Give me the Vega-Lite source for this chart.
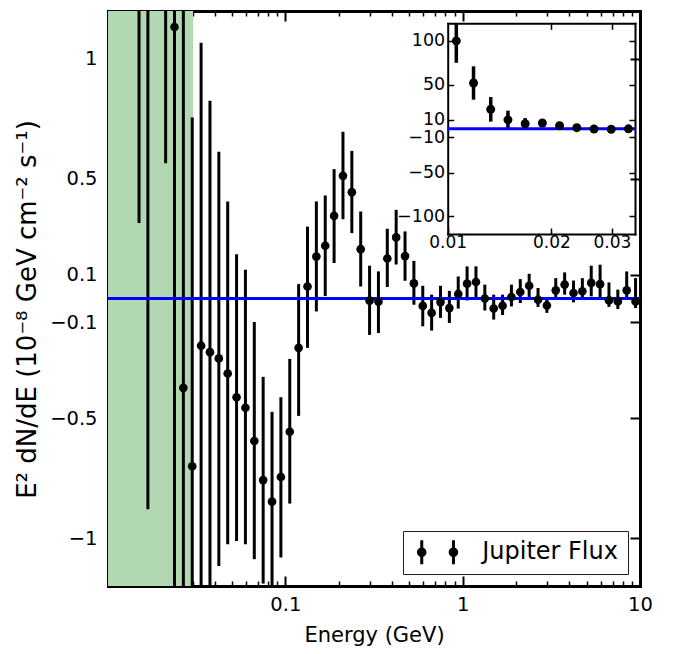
{
  "$schema": "https://vega.github.io/schema/vega-lite/v6.json",
  "width": 532,
  "height": 575,
  "autosize": {"type": "none"},
  "padding": {"left": 108, "top": 11, "right": 33, "bottom": 68},
  "background": "white",
  "config": {
    "view": {"stroke": null},
    "font": "DejaVu Sans",
    "axis": {
      "grid": false,
      "labelFont": "DejaVu Sans",
      "titleFont": "DejaVu Sans",
      "labelColor": "black",
      "titleColor": "black",
      "tickColor": "black",
      "domainColor": "black",
      "labelFontSize": 19.5,
      "titleFontSize": 21,
      "titleFontWeight": "normal",
      "labelFlush": false,
      "labelOverlap": false,
      "zindex": 1
    }
  },
  "datasets": {
    "shade": [{"lo": 0.01, "hi": 0.0302}],
    "flux": [
      {"E": 0.010593, "val": 100, "lo": 75, "hi": 120},
      {"E": 0.011885, "val": 52, "lo": 33, "hi": 71},
      {"E": 0.013335, "val": 22, "lo": 8, "hi": 36},
      {"E": 0.014962, "val": 10, "lo": 0.315, "hi": 20.5},
      {"E": 0.016788, "val": 5.6, "lo": -0.88, "hi": 12},
      {"E": 0.018836, "val": 6.4, "lo": 2.0, "hi": 10.5},
      {"E": 0.021135, "val": 3.4, "lo": 0.565, "hi": 6.2},
      {"E": 0.023714, "val": 1.133, "lo": -1.6, "hi": 3.9},
      {"E": 0.026607, "val": -0.373, "lo": -2.9, "hi": 2.1},
      {"E": 0.029854, "val": -0.70, "lo": -2.16, "hi": 0.756},
      {"E": 0.033497, "val": -0.197, "lo": -1.46, "hi": 1.067},
      {"E": 0.037584, "val": -0.224, "lo": -1.27, "hi": 0.825},
      {"E": 0.04217, "val": -0.25, "lo": -1.116, "hi": 0.613},
      {"E": 0.047315, "val": -0.313, "lo": -1.026, "hi": 0.405},
      {"E": 0.053088, "val": -0.412, "lo": -1.012, "hi": 0.185},
      {"E": 0.059566, "val": -0.456, "lo": -1.026, "hi": 0.12},
      {"E": 0.066834, "val": -0.595, "lo": -1.088, "hi": -0.098},
      {"E": 0.074989, "val": -0.758, "lo": -1.19, "hi": -0.327},
      {"E": 0.08414, "val": -0.848, "lo": -1.22, "hi": -0.473},
      {"E": 0.094406, "val": -0.745, "lo": -1.081, "hi": -0.412},
      {"E": 0.10593, "val": -0.556, "lo": -0.856, "hi": -0.252},
      {"E": 0.11885, "val": -0.206, "lo": -0.49, "hi": 0.06},
      {"E": 0.13335, "val": 0.05, "lo": -0.206, "hi": 0.30},
      {"E": 0.14962, "val": 0.175, "lo": -0.054, "hi": 0.405},
      {"E": 0.16788, "val": 0.22, "lo": 0.01, "hi": 0.43},
      {"E": 0.18836, "val": 0.345, "lo": 0.148, "hi": 0.54},
      {"E": 0.21135, "val": 0.512, "lo": 0.331, "hi": 0.696},
      {"E": 0.23714, "val": 0.444, "lo": 0.273, "hi": 0.616},
      {"E": 0.26607, "val": 0.206, "lo": 0.05, "hi": 0.363},
      {"E": 0.29854, "val": -0.009, "lo": -0.152, "hi": 0.137},
      {"E": 0.33497, "val": -0.013, "lo": -0.144, "hi": 0.113},
      {"E": 0.37584, "val": 0.167, "lo": 0.048, "hi": 0.291},
      {"E": 0.4217, "val": 0.255, "lo": 0.142, "hi": 0.37},
      {"E": 0.47315, "val": 0.177, "lo": 0.074, "hi": 0.28},
      {"E": 0.53088, "val": 0.063, "lo": -0.026, "hi": 0.157},
      {"E": 0.59566, "val": -0.031, "lo": -0.116, "hi": 0.053},
      {"E": 0.66834, "val": -0.06, "lo": -0.134, "hi": 0.016},
      {"E": 0.74989, "val": -0.015, "lo": -0.081, "hi": 0.053},
      {"E": 0.8414, "val": -0.04, "lo": -0.102, "hi": 0.032},
      {"E": 0.94406, "val": 0.019, "lo": -0.042, "hi": 0.092},
      {"E": 1.0593, "val": 0.062, "lo": -0.008, "hi": 0.134},
      {"E": 1.1885, "val": 0.069, "lo": -0.005, "hi": 0.134},
      {"E": 1.3335, "val": 0.0, "lo": -0.05, "hi": 0.058},
      {"E": 1.4962, "val": -0.042, "lo": -0.088, "hi": 0.016},
      {"E": 1.6788, "val": -0.03, "lo": -0.069, "hi": 0.016},
      {"E": 1.8836, "val": 0.006, "lo": -0.033, "hi": 0.058},
      {"E": 2.1135, "val": 0.027, "lo": -0.019, "hi": 0.081},
      {"E": 2.3714, "val": 0.053, "lo": 0.006, "hi": 0.103},
      {"E": 2.6607, "val": -0.005, "lo": -0.035, "hi": 0.044},
      {"E": 2.9854, "val": -0.029, "lo": -0.06, "hi": 0.002},
      {"E": 3.3497, "val": 0.034, "lo": -0.005, "hi": 0.085},
      {"E": 3.7584, "val": 0.058, "lo": 0.016, "hi": 0.109},
      {"E": 4.217, "val": 0.023, "lo": -0.016, "hi": 0.075},
      {"E": 4.7315, "val": 0.03, "lo": -0.002, "hi": 0.085},
      {"E": 5.3088, "val": 0.065, "lo": 0.009, "hi": 0.137},
      {"E": 5.9566, "val": 0.06, "lo": 0.002, "hi": 0.141},
      {"E": 6.6834, "val": -0.008, "lo": -0.035, "hi": 0.067},
      {"E": 7.4989, "val": -0.012, "lo": -0.044, "hi": 0.037},
      {"E": 8.414, "val": 0.034, "lo": 0.002, "hi": 0.113},
      {"E": 9.4406, "val": -0.012, "lo": -0.04, "hi": 0.085}
    ]
  },
  "layer": [
    {
      "layer": [
        {
          "data": {"name": "shade"},
          "mark": {"type": "rect", "color": "#b2d8b2", "clip": true},
          "encoding": {
            "x": {
              "field": "lo", "type": "quantitative",
              "scale": {"type": "log", "domain": [0.01, 10]},
              "axis": {"orient": "bottom", "values": [0.1, 1, 10], "format": "~g", "tickSize": -10, "tickWidth": 2, "domainWidth": 3, "domainCap": "square", "labelPadding": 19, "title": "Energy (GeV)", "titlePadding": 11}
            },
            "x2": {"field": "hi"}
          }
        },
        {
          "data": {"name": "flux"},
          "mark": {"type": "rule", "color": "black", "strokeWidth": 3, "clip": true},
          "encoding": {
            "x": {
              "field": "E", "type": "quantitative",
              "scale": {"type": "log", "domain": [0.01, 10]},
              "axis": {"orient": "top", "values": [0.1, 1], "labels": false, "tickSize": -10, "tickWidth": 2, "domainWidth": 3, "domainCap": "square", "title": null}
            },
            "y": {
              "field": "lo", "type": "quantitative",
              "scale": {"domain": [-1.2, 1.2], "nice": false, "zero": false},
              "axis": {"orient": "right", "values": [-1, -0.5, -0.1, 0.1, 0.5, 1], "labels": false, "tickSize": -10, "tickWidth": 2, "domainWidth": 3, "domainCap": "square", "title": null}
            },
            "y2": {"field": "hi"}
          }
        },
        {
          "data": {"values": [{}]},
          "mark": {"type": "rule", "color": "#0000ff", "strokeWidth": 3},
          "encoding": {
            "x": {
              "datum": 0.01, "type": "quantitative",
              "scale": {"type": "log", "domain": [0.01, 10]},
              "axis": {"orient": "top", "values": [0.02, 0.03, 0.04, 0.05, 0.06, 0.07, 0.08, 0.09, 0.2, 0.3, 0.4, 0.5, 0.6, 0.7, 0.8, 0.9, 2, 3, 4, 5, 6, 7, 8, 9], "labels": false, "domain": false, "tickSize": -5, "tickWidth": 1.5, "title": null}
            },
            "x2": {"datum": 10},
            "y": {"datum": 0, "type": "quantitative", "axis": null}
          }
        },
        {
          "data": {"name": "flux"},
          "mark": {"type": "circle", "size": 75, "opacity": 1, "clip": true},
          "encoding": {
            "x": {
              "field": "E", "type": "quantitative",
              "scale": {"type": "log", "domain": [0.01, 10]},
              "axis": {"orient": "bottom", "values": [0.02, 0.03, 0.04, 0.05, 0.06, 0.07, 0.08, 0.09, 0.2, 0.3, 0.4, 0.5, 0.6, 0.7, 0.8, 0.9, 2, 3, 4, 5, 6, 7, 8, 9], "labels": false, "domain": false, "tickSize": -5, "tickWidth": 1.5, "title": null}
            },
            "y": {
              "field": "val", "type": "quantitative",
              "scale": {"domain": [-1.2, 1.2], "nice": false, "zero": false},
              "axis": {"orient": "left", "values": [-1, -0.5, -0.1, 0.1, 0.5, 1], "format": "~g", "tickSize": -10, "tickWidth": 2, "domainWidth": 3, "domainCap": "square", "labelPadding": 21, "title": "E² dN/dE (10⁻⁸ GeV cm⁻² s⁻¹)", "titleFontSize": 26, "titlePadding": 9, "titleY": 298}
            },
            "color": {
              "datum": "Jupiter Flux", "type": "nominal",
              "scale": {"range": ["black"]},
              "legend": {
                "orient": "bottom-right", "offset": 12, "title": null, "padding": 9.3,
                "symbolType": "M -1.5216 -1.0526 L -1.2584 -1.0526 L -1.2584 1.0526 L -1.5216 1.0526 Z M 1.2584 -1.0526 L 1.5216 -1.0526 L 1.5216 1.0526 L 1.2584 1.0526 Z M -1.8067 0 A 0.4167 0.4167 0 1 1 -0.9733 0 A 0.4167 0.4167 0 1 1 -1.8067 0 Z M 0.9733 0 A 0.4167 0.4167 0 1 1 1.8067 0 A 0.4167 0.4167 0 1 1 0.9733 0 Z",
                "symbolSize": 520, "symbolOffset": 13.3, "symbolFillColor": "black", "symbolStrokeColor": "black", "symbolStrokeWidth": 0, "symbolOpacity": 1,
                "labelFontSize": 24, "labelFont": "DejaVu Sans", "labelColor": "black", "labelOffset": 32.6,
                "strokeColor": "#222", "fillColor": "white", "cornerRadius": 0
              }
            }
          }
        }
      ],
      "resolve": {"axis": {"x": "independent", "y": "independent"}}
    },
    {
      "data": {"name": "flux"},
      "transform": [{"filter": "datum.E < 0.035"}],
      "layer": [
        {
          "mark": {"type": "rule", "color": "black", "strokeWidth": 3.5},
          "encoding": {
            "x": {
              "field": "E", "type": "quantitative",
              "scale": {"type": "log", "domain": [0.01, 0.035], "range": [339.7, 527]},
              "axis": {"orient": "bottom", "offset": -352, "values": [0.01, 0.02, 0.03], "format": "~g", "labelFontSize": 17, "tickSize": -6, "tickWidth": 1.5, "domainWidth": 2, "domainCap": "square", "labelPadding": 6, "title": null}
            },
            "y": {
              "field": "lo", "type": "quantitative",
              "scale": {"domain": [-120, 120], "range": [223, 12.3], "nice": false, "zero": false},
              "axis": {"orient": "left", "offset": -339.7, "values": [-100, -50, -10, 10, 50, 100], "format": "d", "labelFontSize": 17.5, "tickSize": -6, "tickWidth": 1.5, "domainWidth": 2, "domainCap": "square", "labelPadding": 9, "title": null}
            },
            "y2": {"field": "hi"}
          }
        },
        {
          "data": {"values": [{}]},
          "mark": {"type": "rule", "color": "#0000ff", "strokeWidth": 3},
          "encoding": {
            "x": {
              "datum": 0.01, "type": "quantitative",
              "scale": {"type": "log", "domain": [0.01, 0.035], "range": [339.7, 527]},
              "axis": {"orient": "top", "offset": -12.3, "values": [0.02, 0.03], "labels": false, "tickSize": -6, "tickWidth": 1.5, "domainWidth": 2, "domainCap": "square", "title": null}
            },
            "x2": {"datum": 0.035},
            "y": {
              "datum": 0, "type": "quantitative",
              "scale": {"domain": [-120, 120], "range": [223, 12.3], "nice": false, "zero": false},
              "axis": {"orient": "right", "offset": -5, "values": [-100, -50, -10, 10, 50, 100], "labels": false, "tickSize": -6, "tickWidth": 1.5, "domainWidth": 2, "domainCap": "square", "title": null}
            }
          }
        },
        {
          "mark": {"type": "circle", "size": 80, "opacity": 1, "color": "black"},
          "encoding": {
            "x": {"field": "E", "type": "quantitative", "scale": {"type": "log", "domain": [0.01, 0.035], "range": [339.7, 527]}, "axis": null},
            "y": {"field": "val", "type": "quantitative", "scale": {"domain": [-120, 120], "range": [223, 12.3], "nice": false, "zero": false}, "axis": null}
          }
        }
      ],
      "resolve": {"axis": {"x": "independent", "y": "independent"}}
    }
  ],
  "resolve": {"scale": {"x": "independent", "y": "independent"}, "axis": {"x": "independent", "y": "independent"}}
}
